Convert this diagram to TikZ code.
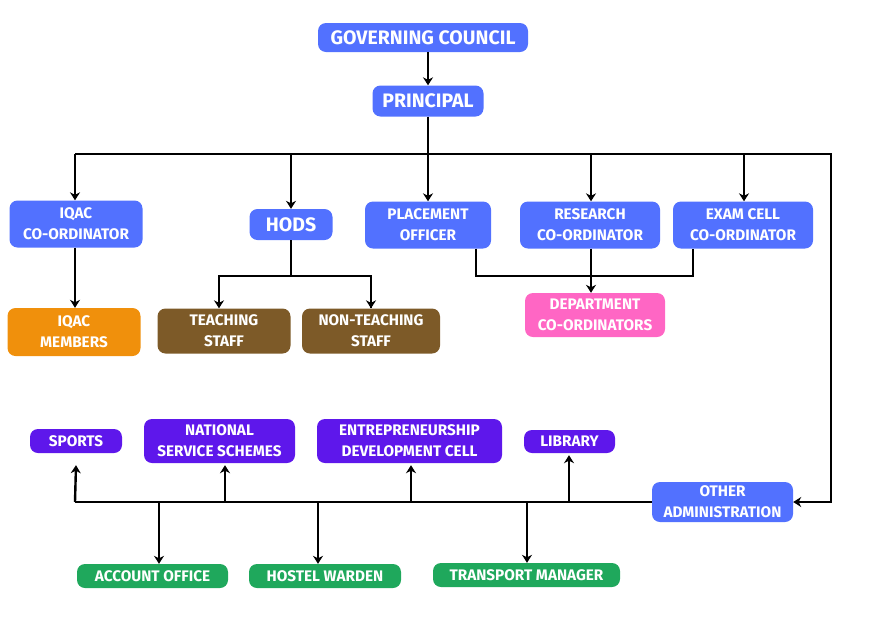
\documentclass[tikz,border=0pt]{standalone}
\usepackage{fontspec}
\setmainfont{Fira Sans}
\usetikzlibrary{arrows.meta,calc}
\definecolor{cblue}{HTML}{5271FF}
\definecolor{corange}{HTML}{F0900C}
\definecolor{cbrown}{HTML}{7D5A28}
\definecolor{cpink}{HTML}{FF66C4}
\definecolor{cpurple}{HTML}{5E17EB}
\definecolor{cgreen}{HTML}{1FA85C}
\tikzset{
  box/.style={rounded corners=8pt, text=white, align=center, inner sep=0pt,
    font=\bfseries\fontsize{15.3}{21}\selectfont},
  bigbox/.style={box, font=\bfseries\fontsize{19.5}{22}\selectfont},
  line/.style={draw=black, line width=2.4pt},
  arr/.style={line, -{Stealth[length=8pt,width=10pt,inset=2.5pt]}},
}
\begin{document}
\begin{tikzpicture}[x=1pt,y=-1pt]
\useasboundingbox (0,0) rectangle (871,630);
% top
\node[bigbox, fill=cblue, minimum width=210, minimum height=29] (gc) at (423,37.5) {GOVERNING COUNCIL};
\node[bigbox, fill=cblue, minimum width=111, minimum height=31] (pr) at (428,101) {PRINCIPAL};
% second row
\node[box, fill=cblue, minimum width=133, minimum height=47] (iq) at (76,224) {IQAC\\CO-ORDINATOR};
\node[bigbox, fill=cblue, minimum width=83, minimum height=31] (hd) at (291,224.5) {HODS};
\node[box, fill=cblue, minimum width=126, minimum height=47] (po) at (428,225) {PLACEMENT\\OFFICER};
\node[box, fill=cblue, minimum width=140, minimum height=47] (rc) at (590,225) {RESEARCH\\CO-ORDINATOR};
\node[box, fill=cblue, minimum width=140, minimum height=47] (ec) at (743,225) {EXAM CELL\\CO-ORDINATOR};
% third row
\node[box, fill=corange, minimum width=133, minimum height=48] (im) at (74,332) {IQAC\\MEMBERS};
\node[box, fill=cbrown, minimum width=133, minimum height=45] (ts) at (224,331) {TEACHING\\STAFF};
\node[box, fill=cbrown, minimum width=138, minimum height=45] (nt) at (371,331) {NON-TEACHING\\STAFF};
\node[box, fill=cpink, minimum width=140, minimum height=44] (dc) at (595,315) {DEPARTMENT\\CO-ORDINATORS};
% bottom purple
\node[box, fill=cpurple, minimum width=92, minimum height=24] (sp) at (76,441) {SPORTS};
\node[box, fill=cpurple, minimum width=151, minimum height=44] (ns) at (219.5,441) {NATIONAL\\SERVICE SCHEMES};
\node[box, fill=cpurple, minimum width=185, minimum height=44] (ed) at (409.5,441) {ENTREPRENEURSHIP\\DEVELOPMENT CELL};
\node[box, fill=cpurple, minimum width=91, minimum height=23] (lb) at (569.5,441.5) {LIBRARY};
\node[box, fill=cblue, minimum width=141, minimum height=40] (oa) at (722.5,502) {OTHER\\ADMINISTRATION};
% bottom green
\node[box, fill=cgreen, minimum width=151, minimum height=24] (ao) at (152.5,576) {ACCOUNT OFFICE};
\node[box, fill=cgreen, minimum width=152, minimum height=24] (hw) at (325,576) {HOSTEL WARDEN};
\node[box, fill=cgreen, minimum width=187, minimum height=24] (tm) at (526.5,575) {TRANSPORT MANAGER};
% coordinates
\coordinate (t1) at (75,154);
\coordinate (t2) at (831,154);
\coordinate (m1) at (0,276);
\coordinate (b1) at (75,502);
% top connectors
\draw[arr] (pr.north |- gc.south) -- (pr.north);
\draw[arr] (pr.south) -- (po.north);
\draw[arr] (t1) -- (t2) -- (t2 |- oa.east) -- (oa.east);
\draw[arr] (t1) -- (t1 |- iq.north);
\draw[arr] (hd.north |- t1) -- (hd.north);
\draw[arr] ([xshift=1]rc.north |- t1) -- ([xshift=1]rc.north);
\draw[arr] ([xshift=1]ec.north |- t1) -- ([xshift=1]ec.north);
\draw[arr] ([xshift=-1]iq.south) -- ([xshift=-1]iq.south |- im.north);
\draw[arr] (hd.south) -- (hd.south |- m1) -| ([xshift=-5]ts.north);
\draw[line] (hd.south |- m1) -| (nt.north);
\draw[arr] (nt.north |- m1) -- (nt.north);
\draw[line] ([xshift=48]po.south) |- ($([xshift=-50]ec.south |- m1)$) -- ([xshift=-50]ec.south);
\draw[arr] ([xshift=1]rc.south) -- ([xshift=1]rc.south |- dc.north);
% bottom connectors
\draw[line] (b1) -- (oa.west);
\draw[arr] (b1) -- ([yshift=-12]sp.south);
\draw[arr] ([xshift=5.5]ns.south |- b1) -- ([xshift=5.5,yshift=-2]ns.south);
\draw[arr] ([xshift=1.5]ed.south |- b1) -- ([xshift=1.5,yshift=-2]ed.south);
\draw[arr] ([xshift=-0.5]lb.south |- b1) -- ([xshift=-0.5,yshift=-2]lb.south);
\draw[arr] ([xshift=6.5]ao.north |- b1) -- ([xshift=6.5]ao.north);
\draw[arr] ([xshift=-7]hw.north |- b1) -- ([xshift=-7]hw.north);
\draw[arr] ([xshift=0.5]tm.north |- b1) -- ([xshift=0.5]tm.north);
\end{tikzpicture}
\end{document}
